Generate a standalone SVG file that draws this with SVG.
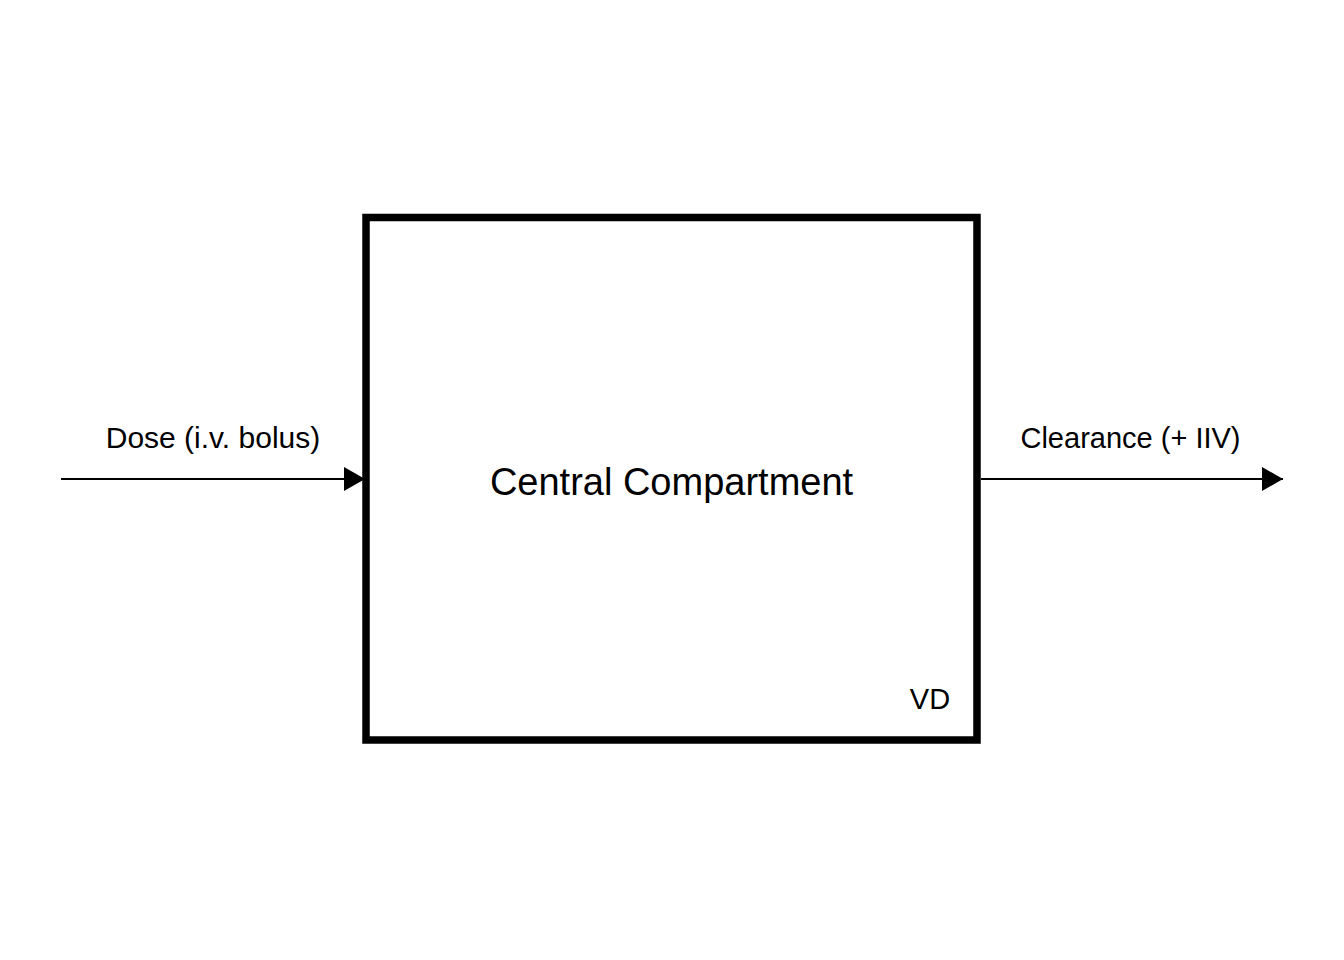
<svg xmlns="http://www.w3.org/2000/svg" width="1344" height="960" viewBox="0 0 1344 960">
<style>
text{font-family:"Liberation Sans",Arial,sans-serif;fill:#000}
.lbl{font-size:29px}
.title{font-size:38px}
.edge{stroke:#000;stroke-width:2.2;fill:none}
</style>
<defs>
<marker id="arr" markerUnits="userSpaceOnUse" markerWidth="22" markerHeight="26" refX="21" refY="12" orient="auto">
<path d="M0,0 L21,12 L0,24 Z" fill="#000"/>
</marker>
</defs>
<rect width="1344" height="960" fill="#fff"/>
<g id="connectors">
<line class="edge" x1="61" y1="479" x2="365" y2="479" marker-end="url(#arr)"/>
<line class="edge" x1="981" y1="479" x2="1283" y2="479" marker-end="url(#arr)"/>
</g>
<g id="central">
<rect x="366" y="217.5" width="611" height="522.5" fill="none" stroke="#000" stroke-width="7.5"/>
<text class="title" x="671.5" y="495" text-anchor="middle">Central Compartment</text>
<text class="lbl" x="930" y="709" text-anchor="middle">VD</text>
</g>
<g id="dose-label">
<text class="lbl" x="213" y="448" text-anchor="middle" style="font-size:30px">Dose (i.v. bolus)</text>
</g>
<g id="clearance-label">
<text class="lbl" x="1130.5" y="448" text-anchor="middle">Clearance (+ IIV)</text>
</g>
</svg>
